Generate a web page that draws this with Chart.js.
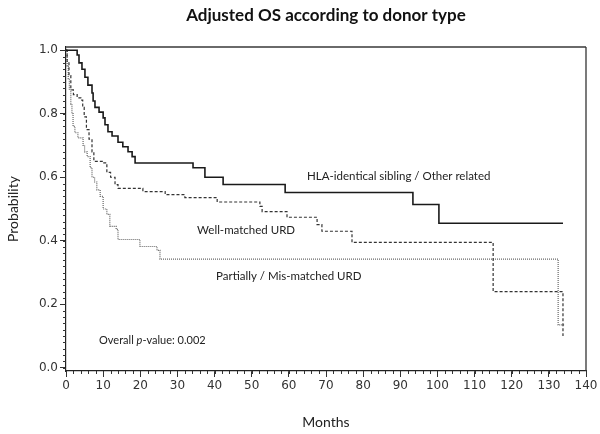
<!DOCTYPE html>
<html>
<head>
<meta charset="utf-8">
<title>Adjusted OS according to donor type</title>
<script src="https://cdn.jsdelivr.net/npm/chart.js@4.4.1/dist/chart.umd.min.js"></script>
<style>
  html, body { margin: 0; background: #fff; }
</style>
</head>
<body>
<canvas id="chart-os" width="600" height="434"></canvas>
<script>
// Kaplan-Meier steps (month of drop, survival after drop)
const HLA_MONTHS = [0, 3.0, 3.5, 4.3, 5.1, 5.9, 7.0, 7.3, 7.8, 8.9, 10.0, 10.5, 11.3, 12.4, 14.0, 15.3, 16.7, 17.8, 18.6, 34.2, 37.4, 42.3, 59.0, 93.4, 100.4, 133.8];
const HLA_PROB   = [1.0, 0.985, 0.96, 0.94, 0.915, 0.89, 0.865, 0.84, 0.82, 0.805, 0.787, 0.765, 0.743, 0.73, 0.71, 0.696, 0.68, 0.665, 0.645, 0.63, 0.60, 0.577, 0.552, 0.514, 0.455, 0.455];

const WELL_MONTHS = [0, 0.3, 0.8, 1.3, 2.0, 3.0, 4.0, 4.5, 4.9, 5.5, 6.2, 7.0, 7.5, 10.0, 11.0, 12.0, 13.2, 14.0, 20.7, 26.7, 32.0, 40.7, 52.2, 52.8, 59.5, 67.6, 68.9, 77.0, 115.0, 133.8];
const WELL_PROB   = [1.0, 0.96, 0.92, 0.875, 0.86, 0.85, 0.843, 0.82, 0.79, 0.75, 0.72, 0.68, 0.65, 0.645, 0.615, 0.60, 0.577, 0.565, 0.555, 0.545, 0.536, 0.522, 0.508, 0.492, 0.474, 0.451, 0.43, 0.395, 0.24, 0.10];

const PART_MONTHS = [0, 0.3, 0.6, 0.9, 1.3, 1.6, 1.9, 2.4, 3.2, 4.6, 5.0, 5.7, 6.5, 7.0, 7.7, 8.3, 9.2, 10.0, 11.0, 11.8, 13.5, 14.0, 19.9, 24.5, 25.3, 132.5, 134.1];
const PART_PROB   = [1.0, 0.95, 0.91, 0.875, 0.83, 0.80, 0.76, 0.74, 0.724, 0.70, 0.68, 0.665, 0.63, 0.60, 0.585, 0.56, 0.54, 0.50, 0.483, 0.445, 0.436, 0.404, 0.382, 0.37, 0.342, 0.135, 0.135];

const X_TICKS = [0, 10, 20, 30, 40, 50, 60, 70, 80, 90, 100, 110, 120, 130, 140];
const Y_TICKS = [0.0, 0.2, 0.4, 0.6, 0.8, 1.0];

const SERIES_LABELS = [
  'HLA-identical sibling / Other related',
  'Well-matched URD',
  'Partially / Mis-matched URD',
];
const CHART_TITLE = 'Adjusted OS according to donor type';

const TEXT_FONT = '"Lato", "Open Sans", sans-serif';
const TICK_FONT = '"DejaVu Sans", sans-serif';

function toPoints(xs, ys) {
  return xs.map((x, i) => ({ x, y: ys[i] }));
}

// Title, frame, minor ticks and in-plot labels
const decorations = {
  id: 'decorations',
  afterDraw(chart) {
    const { ctx, chartArea: area, scales } = chart;
    const xs = scales.x, ys = scales.y;
    ctx.save();

    // title, centred over the plot box
    ctx.fillStyle = '#111';
    ctx.textAlign = 'center';
    ctx.textBaseline = 'middle';
    ctx.font = 'bold 17px ' + TEXT_FONT;
    ctx.fillText(CHART_TITLE, (area.left + area.right) / 2, 16);

    // top + right of the box
    ctx.strokeStyle = '#6a6a6a';
    ctx.lineWidth = 1.8;
    ctx.beginPath();
    ctx.moveTo(area.left, area.top);
    ctx.lineTo(area.right, area.top);
    ctx.stroke();
    ctx.strokeStyle = '#333';
    ctx.lineWidth = 1.3;
    ctx.beginPath();
    ctx.moveTo(area.right, area.top);
    ctx.lineTo(area.right, area.bottom);
    ctx.stroke();

    // minor ticks
    ctx.strokeStyle = '#333';
    ctx.lineWidth = 1;
    ctx.beginPath();
    for (let m = 0; m <= 140; m += 2) {
      const px = Math.round(xs.getPixelForValue(m)) + 0.5;
      ctx.moveTo(px, area.bottom);
      ctx.lineTo(px, area.bottom + 3);
    }
    for (let k = 0; k <= 50; k++) {
      const py = Math.round(ys.getPixelForValue(k * 0.02)) + 0.5;
      ctx.moveTo(area.left, py);
      ctx.lineTo(area.left - 3, py);
    }
    ctx.stroke();

    // curve labels
    ctx.fillStyle = '#222';
    ctx.textAlign = 'left';
    ctx.font = '11.5px ' + TEXT_FONT;
    ctx.fillText(SERIES_LABELS[0], xs.getPixelForValue(64.9), ys.getPixelForValue(0.604));
    ctx.fillText(SERIES_LABELS[1], xs.getPixelForValue(35.3), ys.getPixelForValue(0.434));
    ctx.fillText(SERIES_LABELS[2], xs.getPixelForValue(40.4), ys.getPixelForValue(0.289));

    // p-value note
    const px = xs.getPixelForValue(8.9), py = ys.getPixelForValue(0.0875);
    ctx.font = '11px ' + TEXT_FONT;
    let w = 0;
    ctx.fillText('Overall ', px, py);
    w += ctx.measureText('Overall ').width;
    ctx.font = 'italic 11px ' + TEXT_FONT;
    ctx.fillText('p', px + w, py);
    w += ctx.measureText('p').width;
    ctx.font = '11px ' + TEXT_FONT;
    ctx.fillText('-value: 0.002', px + w, py);

    ctx.restore();
  },
};

const ctx = document.getElementById('chart-os').getContext('2d');

new Chart(ctx, {
  type: 'line',
  data: {
    datasets: [
      {
        label: SERIES_LABELS[0],
        data: toPoints(HLA_MONTHS, HLA_PROB),
        borderColor: '#1a1a1a',
        borderWidth: 1.6,
        stepped: true,
        pointRadius: 0,
        fill: false,
      },
      {
        label: SERIES_LABELS[1],
        data: toPoints(WELL_MONTHS, WELL_PROB),
        borderColor: '#333',
        borderWidth: 1.2,
        borderDash: [3, 2],
        stepped: true,
        pointRadius: 0,
        fill: false,
      },
      {
        label: SERIES_LABELS[2],
        data: toPoints(PART_MONTHS, PART_PROB),
        borderColor: '#666',
        borderWidth: 1.2,
        borderDash: [1, 1],
        stepped: true,
        pointRadius: 0,
        fill: false,
      },
    ],
  },
  options: {
    responsive: false,
    animation: false,
    devicePixelRatio: 1,
    layout: { padding: { left: 0, right: 14, top: 47, bottom: 0 } },
    plugins: {
      legend: { display: false },
      tooltip: { enabled: false },
      title: { display: false },
    },
    scales: {
      x: {
        type: 'linear',
        min: 0,
        max: 140,
        afterBuildTicks: s => { s.ticks = X_TICKS.map(v => ({ value: v })); },
        afterFit: s => { s.height = 63; },
        ticks: {
          color: '#333',
          font: { family: TICK_FONT, size: 12 },
          padding: 2,
          maxRotation: 0,
        },
        grid: { drawOnChartArea: false, drawTicks: true, tickLength: 6, color: '#333' },
        border: { color: '#222', width: 1.2 },
        title: {
          display: true,
          text: 'Months',
          color: '#222',
          font: { family: TEXT_FONT, size: 14 },
          padding: { top: 4, bottom: 3 },
        },
      },
      y: {
        min: -0.01,
        max: 1.01,
        afterBuildTicks: s => { s.ticks = Y_TICKS.map(v => ({ value: v })); },
        afterFit: s => { s.width = 66; },
        ticks: {
          color: '#333',
          font: { family: TICK_FONT, size: 12 },
          padding: 2,
          callback: v => Number(v).toFixed(1),
        },
        grid: { drawOnChartArea: false, drawTicks: true, tickLength: 6, color: '#333' },
        border: { color: '#222', width: 1.2 },
        title: {
          display: true,
          text: 'Probability',
          color: '#222',
          font: { family: TEXT_FONT, size: 14 },
          padding: { top: 5, bottom: 4 },
        },
      },
    },
  },
  plugins: [decorations],
});
</script>
</body>
</html>
